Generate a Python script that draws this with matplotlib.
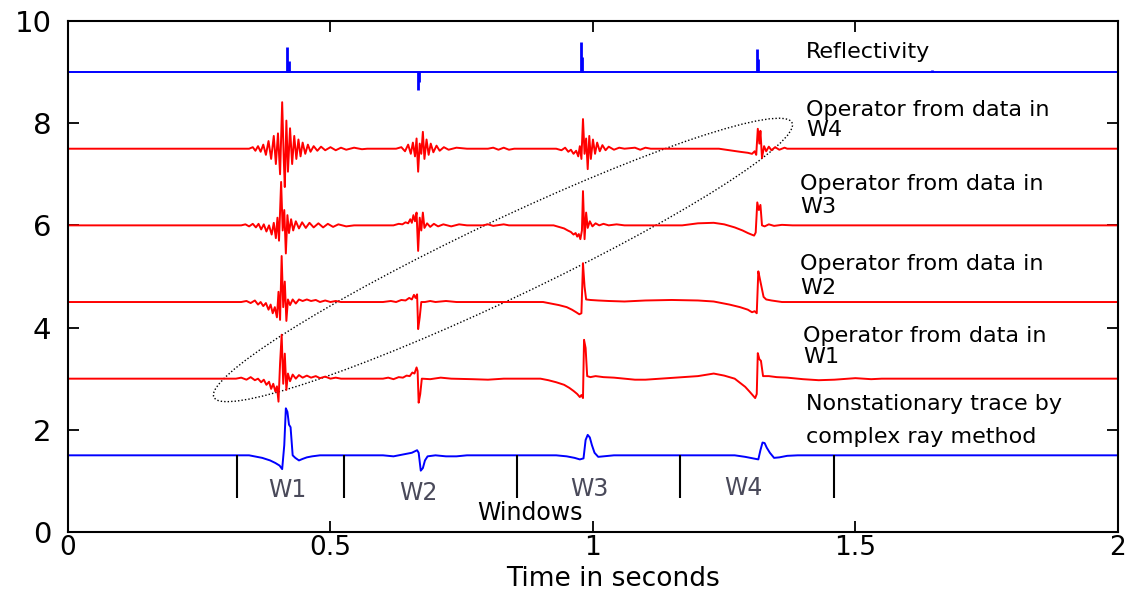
import matplotlib
matplotlib.use("Agg")
import matplotlib.pyplot as plt
from matplotlib.patches import Ellipse
from matplotlib.transforms import Affine2D

# spikes of the reflectivity series (time s, amplitude)
refl_spikes = [(0.418, 0.49), (0.421, 0.22), (0.666, -0.35), (0.668, -0.2),
               (0.977, 0.59), (0.979, 0.3), (1.313, 0.46), (1.315, 0.25),
               (1.646, 0.05)]

# traces: (time s, offset from baseline)
op_w4 = [(0, 0), (0.345, 0), (0.352, 0.03), (0.357, -0.04), (0.362, 0.05), (0.367, -0.06),
         (0.372, 0.08), (0.377, -0.12), (0.382, 0.15), (0.387, -0.2), (0.392, 0.25),
         (0.396, -0.3), (0.400, 0.3), (0.404, -0.5), (0.408, 0.91), (0.411, -0.2),
         (0.413, -0.75), (0.416, 0.55), (0.419, -0.45), (0.423, 0.4), (0.427, -0.3),
         (0.431, 0.25), (0.435, -0.2), (0.439, 0.18), (0.443, -0.15), (0.447, 0.12),
         (0.452, -0.1), (0.457, 0.08), (0.462, -0.06), (0.468, 0.05), (0.475, -0.04),
         (0.482, 0.04), (0.490, -0.03), (0.500, 0.03), (0.510, -0.03), (0.520, 0.02),
         (0.530, -0.02), (0.545, 0.02), (0.560, -0.01), (0.570, 0),
         (0.625, 0), (0.635, 0.03), (0.642, -0.05), (0.648, 0.08), (0.653, -0.1),
         (0.657, 0.12), (0.661, -0.15), (0.664, 0.2), (0.667, -0.45), (0.670, 0.1),
         (0.673, -0.1), (0.676, 0.33), (0.679, -0.2), (0.683, 0.18), (0.687, -0.12),
         (0.691, 0.1), (0.696, -0.07), (0.702, 0.06), (0.708, -0.04), (0.716, 0.03),
         (0.725, -0.02), (0.740, 0.02), (0.760, 0),
         (0.80, 0), (0.81, 0.02), (0.82, -0.02), (0.83, 0.02), (0.84, -0.02), (0.85, 0),
         (0.930, 0), (0.940, -0.03), (0.947, 0.02), (0.953, -0.06), (0.958, -0.02),
         (0.963, -0.1), (0.968, -0.04), (0.972, -0.15), (0.975, 0.05), (0.978, -0.2),
         (0.981, 0.58), (0.984, -0.1), (0.987, 0.2), (0.990, -0.4), (0.993, 0.25),
         (0.996, -0.2), (1.000, 0.18), (1.004, -0.1), (1.008, 0.12), (1.013, -0.05),
         (1.018, 0.07), (1.024, -0.03), (1.030, 0.04), (1.040, -0.02), (1.050, 0.02),
         (1.060, 0), (1.08, 0.02), (1.09, -0.02), (1.10, 0.02), (1.11, 0),
         (1.240, 0), (1.260, -0.03), (1.280, -0.06), (1.295, -0.08), (1.303, -0.1),
         (1.308, -0.05), (1.311, -0.12), (1.314, 0.39), (1.317, 0.1), (1.319, 0.35),
         (1.322, -0.18), (1.326, 0.05), (1.330, -0.05), (1.335, 0.04), (1.340, -0.03),
         (1.347, 0.03), (1.355, -0.02), (1.365, 0.02), (1.370, 0), (2.0, 0)]

op_w3 = [(0, 0), (0.330, 0), (0.338, 0.02), (0.345, -0.02), (0.352, 0.03), (0.358, -0.04),
         (0.363, 0.03), (0.368, -0.08), (0.373, 0.02), (0.378, -0.12), (0.383, 0.0),
         (0.388, -0.18), (0.392, 0.05), (0.396, -0.25), (0.399, 0.15), (0.402, -0.3),
         (0.406, 0.85), (0.409, -0.1), (0.412, 0.3), (0.415, -0.55), (0.418, 0.2),
         (0.421, -0.15), (0.425, 0.12), (0.429, -0.1), (0.434, 0.08), (0.440, -0.06),
         (0.446, 0.06), (0.453, -0.05), (0.460, 0.05), (0.468, -0.04), (0.477, 0.04),
         (0.486, -0.04), (0.495, 0.03), (0.505, -0.03), (0.515, 0.02), (0.530, -0.02),
         (0.545, 0),
         (0.620, 0), (0.630, 0.03), (0.637, 0.02), (0.643, 0.06), (0.648, 0.04),
         (0.652, 0.12), (0.655, 0.05), (0.658, 0.2), (0.661, 0.08), (0.664, 0.25),
         (0.667, -0.5), (0.670, 0.15), (0.673, -0.1), (0.676, 0.25), (0.679, -0.05),
         (0.684, 0.04), (0.690, -0.03), (0.697, 0.03), (0.705, -0.02), (0.715, 0.02),
         (0.730, -0.02), (0.745, 0.02), (0.760, 0),
         (0.79, 0), (0.80, 0.02), (0.81, -0.01), (0.83, 0.02), (0.84, 0),
         (0.925, 0), (0.935, -0.03), (0.945, -0.06), (0.952, -0.1), (0.958, -0.13),
         (0.963, -0.18), (0.967, -0.15), (0.970, -0.22), (0.973, -0.17), (0.976, -0.27),
         (0.979, -0.1), (0.981, 0.67), (0.984, -0.27), (0.987, 0.25), (0.990, -0.05),
         (0.994, 0.08), (0.999, -0.02), (1.005, 0.04), (1.012, 0.0), (1.020, 0.03),
         (1.030, 0.0), (1.045, 0.02), (1.060, 0),
         (1.170, 0), (1.200, 0.04), (1.230, 0.05), (1.250, 0.02), (1.270, -0.04),
         (1.285, -0.1), (1.295, -0.15), (1.302, -0.18), (1.307, -0.2), (1.310, -0.14),
         (1.313, 0.45), (1.316, 0.3), (1.319, 0.4), (1.322, 0.0), (1.327, -0.02),
         (1.335, 0.02), (1.345, -0.01), (1.360, 0.01), (1.380, 0), (2.0, 0)]

op_w2 = [(0, 0), (0.330, 0), (0.340, 0.02), (0.348, -0.02), (0.356, 0.03), (0.362, -0.05),
         (0.367, 0.0), (0.372, -0.08), (0.377, -0.02), (0.382, -0.15), (0.386, -0.05),
         (0.390, -0.22), (0.394, -0.1), (0.398, -0.3), (0.401, 0.2), (0.404, -0.35),
         (0.407, 0.9), (0.410, -0.1), (0.413, 0.4), (0.416, -0.37), (0.419, 0.05),
         (0.423, -0.06), (0.428, 0.05), (0.434, -0.03), (0.440, 0.05), (0.447, 0.02),
         (0.455, 0.05), (0.463, 0.02), (0.472, 0.04), (0.480, 0.0), (0.490, 0.03),
         (0.500, 0.0), (0.510, 0.02), (0.520, 0),
         (0.600, 0), (0.615, 0.02), (0.625, 0.0), (0.635, 0.04), (0.643, 0.03),
         (0.650, 0.08), (0.655, 0.05), (0.659, 0.14), (0.662, 0.08), (0.665, 0.15),
         (0.667, -0.53), (0.670, -0.3), (0.673, 0.0), (0.680, 0.0), (0.690, 0.02),
         (0.700, 0.0), (0.720, 0.02), (0.740, 0),
         (0.905, 0), (0.920, -0.03), (0.935, -0.06), (0.950, -0.1), (0.960, -0.15),
         (0.968, -0.2), (0.974, -0.24), (0.978, -0.22), (0.981, 0.76), (0.984, 0.3),
         (0.987, 0.05), (0.995, 0.04), (1.010, 0.03), (1.030, 0.02), (1.060, 0.01),
         (1.100, 0.03), (1.150, 0.04), (1.200, 0.03),
         (1.230, 0.01), (1.260, -0.05), (1.280, -0.1), (1.295, -0.15), (1.303, -0.2),
         (1.308, -0.18), (1.312, -0.22), (1.315, 0.6), (1.318, 0.45), (1.321, 0.3),
         (1.325, 0.1), (1.330, 0.05), (1.340, 0.03), (1.360, 0.0), (2.0, 0)]

op_w1 = [(0, 0), (0.320, 0), (0.330, 0.02), (0.340, -0.02), (0.348, 0.03), (0.356, -0.03),
         (0.362, 0.0), (0.368, -0.07), (0.373, -0.02), (0.378, -0.12), (0.383, -0.06),
         (0.387, -0.2), (0.391, -0.1), (0.395, -0.25), (0.398, -0.15), (0.401, -0.45),
         (0.404, 0.3), (0.407, 0.86), (0.410, -0.1), (0.413, 0.49), (0.416, -0.22),
         (0.419, 0.1), (0.423, -0.05), (0.428, 0.08), (0.434, 0.0), (0.440, 0.07),
         (0.447, 0.02), (0.455, 0.06), (0.463, 0.02), (0.472, 0.05), (0.480, 0.01),
         (0.490, 0.04), (0.500, 0.0), (0.510, 0.02), (0.520, 0),
         (0.600, 0), (0.610, 0.02), (0.620, -0.01), (0.630, 0.03), (0.638, 0.02),
         (0.645, 0.06), (0.651, 0.05), (0.656, 0.12), (0.660, 0.1), (0.664, 0.22),
         (0.666, 0.15), (0.668, -0.47), (0.671, -0.3), (0.674, 0.0), (0.690, -0.01),
         (0.710, 0.02), (0.730, 0.0), (0.770, -0.01), (0.800, -0.02), (0.830, 0),
         (0.900, 0), (0.915, -0.03), (0.930, -0.07), (0.945, -0.12), (0.955, -0.18),
         (0.963, -0.24), (0.970, -0.3), (0.975, -0.36), (0.978, -0.32), (0.981, -0.38),
         (0.983, 0.76), (0.986, 0.6), (0.989, 0.05), (0.995, 0.03), (1.005, 0.05),
         (1.020, 0.03), (1.040, 0.02), (1.060, 0.0), (1.080, -0.02), (1.100, -0.02),
         (1.200, 0.05), (1.230, 0.1), (1.250, 0.06), (1.270, 0.0), (1.280, -0.08),
         (1.290, -0.16), (1.298, -0.25), (1.304, -0.32), (1.309, -0.38), (1.312, -0.3),
         (1.314, 0.5), (1.317, 0.38), (1.320, 0.35), (1.324, 0.05), (1.335, 0.05),
         (1.350, 0.03), (1.370, 0.02), (1.400, -0.01), (1.430, -0.03), (1.460, -0.02),
         (1.500, 0.01), (1.530, -0.01), (1.550, 0), (2.0, 0)]

nonstat = [(0, 0), (0.345, 0), (0.355, -0.02), (0.370, -0.05), (0.385, -0.1), (0.395, -0.15),
           (0.403, -0.2), (0.408, -0.27), (0.412, 0.2), (0.415, 0.92), (0.418, 0.85),
           (0.421, 0.6), (0.424, 0.55), (0.428, 0.0), (0.433, -0.05), (0.440, -0.1),
           (0.447, -0.07), (0.455, -0.04), (0.465, -0.02), (0.480, 0),
           (0.600, 0), (0.620, -0.02), (0.640, 0.02), (0.655, 0.05), (0.665, 0.1),
           (0.668, 0.05), (0.672, -0.3), (0.676, -0.25), (0.680, -0.1), (0.685, -0.02),
           (0.700, 0.0), (0.720, -0.02), (0.740, -0.02), (0.760, 0),
           (0.930, 0), (0.950, -0.02), (0.965, -0.05), (0.975, -0.08), (0.982, -0.06),
           (0.986, 0.3), (0.990, 0.4), (0.994, 0.35), (0.998, 0.2), (1.003, 0.05),
           (1.010, -0.03), (1.020, -0.02), (1.040, 0),
           (1.270, 0), (1.290, -0.03), (1.305, -0.06), (1.315, -0.08), (1.319, 0.1),
           (1.323, 0.25), (1.327, 0.24), (1.331, 0.15), (1.337, 0.05), (1.345, -0.05),
           (1.355, -0.04), (1.370, -0.01), (1.390, 0), (2.0, 0)]

# window boundaries and labels
win_edges = [0.322, 0.526, 0.855, 1.166, 1.459]
win_labels = ["W1", "W2", "W3", "W4"]
win_label_t = [0.417, 0.667, 0.994, 1.286]
win_label_y = [0.82, 0.76, 0.84, 0.86]

traces = [(op_w4, 7.5, "red"), (op_w3, 6.0, "red"), (op_w2, 4.5, "red"),
          (op_w1, 3.0, "red"), (nonstat, 1.5, "blue")]

fig = plt.figure(figsize=(11.33, 5.92), dpi=100)
ax = fig.add_axes([0.060, 0.1014, 0.9267, 0.8632])

# reflectivity
ax.plot([0, 2], [9, 9], color="blue", lw=1.4)
ax.vlines([s[0] for s in refl_spikes], 9, [9 + s[1] for s in refl_spikes],
          color="blue", lw=2)

for tr, base, col in traces:
    ax.plot([p[0] for p in tr], [base + p[1] for p in tr], color=col, lw=1.4)

ax.vlines(win_edges, 0.67, 1.5, color="black", lw=1.5)
for lab, t, y in zip(win_labels, win_label_t, win_label_y):
    ax.text(t, y, lab, ha="center", va="center", fontsize=17, color="#4a4a5a")
ax.text(0.88, 0.37, "Windows", ha="center", va="center", fontsize=17)

# labels on the right
txt = [("Reflectivity", 1.406, 9.39),
       ("Operator from data in", 1.406, 8.26), ("W4", 1.406, 7.87),
       ("Operator from data in", 1.394, 6.81), ("W3", 1.394, 6.36),
       ("Operator from data in", 1.394, 5.24), ("W2", 1.394, 4.77),
       ("Operator from data in", 1.400, 3.84), ("W1", 1.400, 3.43),
       ("Nonstationary trace by", 1.406, 2.50),
       ("complex ray method", 1.406, 1.86)]
for s, x, y in txt:
    ax.text(x, y, s, ha="left", va="center", fontsize=16)

# dotted ellipse, sized in pixel-like units (525 px per second, 51.1 px per unit)
ell = Ellipse((435.0, 272.0), 640, 78, angle=25.4, fill=False, ls=(0, (1, 1.5)),
              lw=1.0, color="black",
              transform=Affine2D().scale(1 / 525.0, 1 / 51.1) + ax.transData)
ax.add_patch(ell)

ax.set_xlim(0, 2)
ax.set_ylim(0, 10)
ax.set_xticks([0, 0.5, 1, 1.5, 2])
ax.set_xticklabels(["0", "0.5", "1", "1.5", "2"])
ax.set_yticks([0, 2, 4, 6, 8, 10])
ax.tick_params(direction="in", length=8, width=1.3, top=True, right=True)
ax.tick_params(axis="y", pad=12, labelsize=21)
ax.tick_params(axis="x", pad=2, labelsize=19)
for sp in ax.spines.values():
    sp.set_linewidth(1.5)
ax.set_xlabel("Time in seconds", fontsize=19, va="bottom")
ax.xaxis.set_label_coords(0.519, -0.1174)

fig.savefig("out.png", dpi=100)
